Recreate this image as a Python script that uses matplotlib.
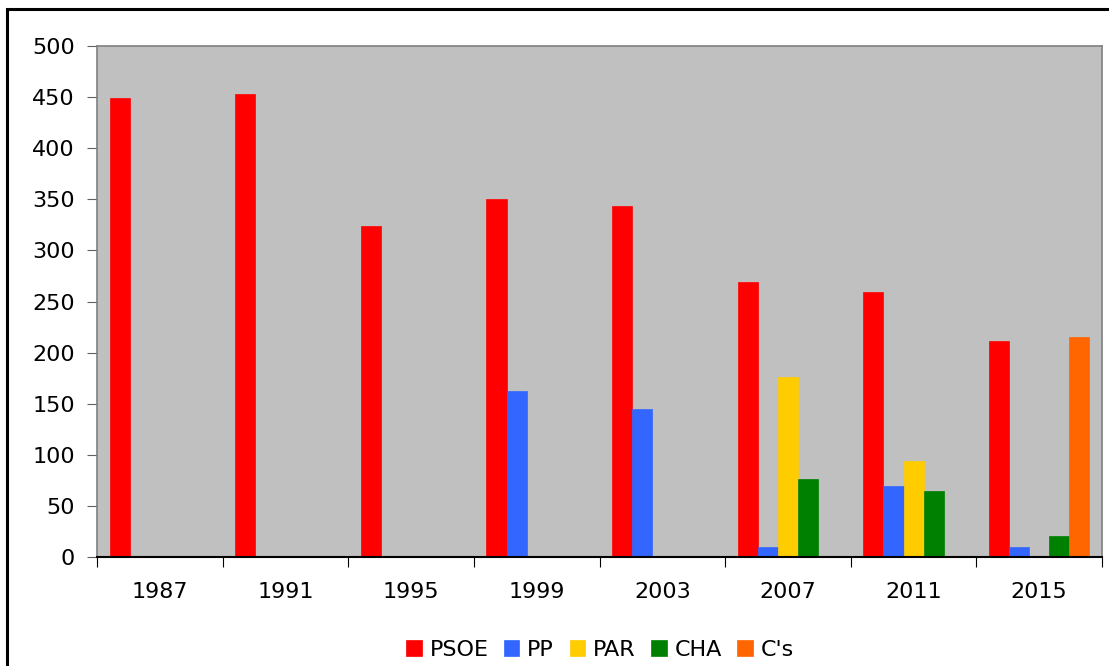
import numpy as np
import matplotlib.pyplot as plt
from matplotlib.patches import Rectangle

years = ["1987", "1991", "1995", "1999", "2003", "2007", "2011", "2015"]
parties = ["PSOE", "PP", "PAR", "CHA", "C's"]
colors = ["#FF0000", "#3366FF", "#FFCC00", "#008000", "#FF6600"]

psoe = [449, 453, 324, 350, 343, 269, 259, 211]
pp = [0, 0, 0, 162, 145, 10, 69, 10]
par = [0, 0, 0, 0, 0, 176, 94, 0]
cha = [0, 0, 0, 0, 0, 76, 65, 21]
cs = [0, 0, 0, 0, 0, 0, 0, 215]
series = [psoe, pp, par, cha, cs]

fig = plt.figure(figsize=(11.09, 6.66), dpi=100)
ax = fig.add_axes([97 / 1109, 1 - 557 / 666, (1102 - 97) / 1109, (557 - 46) / 666])
ax.set_facecolor("#C0C0C0")

# marco exterior (cortado por la derecha y abajo)
fig.patches.append(Rectangle((7 / 1109, -0.1), 1.2, 1 - 9 / 666 + 0.1,
                             transform=fig.transFigure, fill=False,
                             edgecolor="black", linewidth=2.2))

x = np.arange(len(years))
w = 0.16
for k, (vals, name, c) in enumerate(zip(series, parties, colors)):
    ax.bar(x + 0.1 + k * w, vals, width=w, align="edge", color=c, label=name,
           edgecolor=c, linewidth=0.5)

ax.set_xlim(0, len(years))
ax.set_ylim(0, 500)
ax.set_yticks(range(0, 501, 50))
ax.set_xticks(range(len(years) + 1))
ax.set_xticklabels([])
ax.set_xticks(x + 0.5, minor=True)
ax.set_xticklabels(years, minor=True)
ax.tick_params(axis="x", which="minor", length=0, pad=18, labelsize=16)
ax.tick_params(axis="x", which="major", length=7, color="black")
ax.tick_params(axis="y", length=7, color="#606060", labelsize=16, pad=9)

for s in ["top", "right", "left"]:
    ax.spines[s].set_color("#808080")
    ax.spines[s].set_linewidth(1.2)
ax.spines["bottom"].set_color("black")
ax.spines["bottom"].set_linewidth(1.5)

fig.legend(loc="center", bbox_to_anchor=(600 / 1109, 1 - 650 / 666), ncol=5,
           frameon=False, fontsize=16, handlelength=0.7, handleheight=0.7,
           handletextpad=0.35, columnspacing=0.7)

fig.savefig("out.png", dpi=100)
